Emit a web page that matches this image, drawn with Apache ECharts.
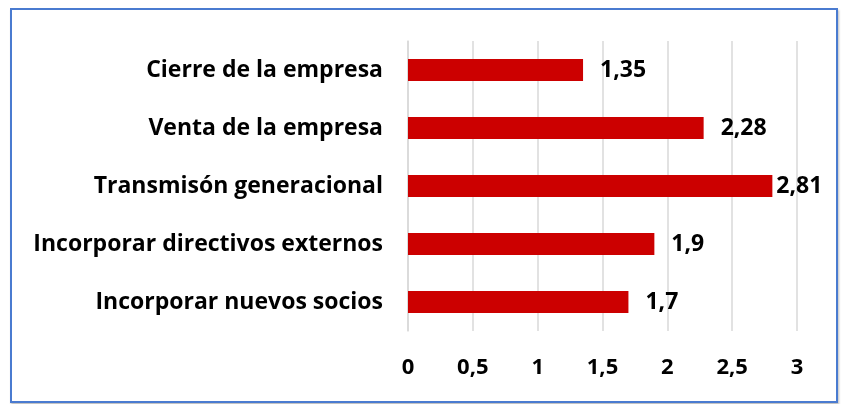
<!DOCTYPE html>
<html>
<head>
<meta charset="utf-8">
<script src="https://cdn.jsdelivr.net/npm/echarts@6/dist/echarts.min.js"></script>
<style>
  html, body { margin: 0; padding: 0; background: #ffffff; }
  #frame {
    position: absolute; left: 10px; top: 8px; width: 824px; height: 391px;
    border: 2px solid #4a7bd0; box-shadow: 1px 2px 2px #bfbfbf; background: #fff;
  }
  #chart { position: absolute; left: 0; top: 0; width: 843px; height: 404px; }
</style>
</head>
<body>
<div id="frame"></div>
<div id="chart"></div>
<script>
// Categories, top to bottom
const categories = [
  'Cierre de la empresa',
  'Venta de la empresa',
  'Transmisón generacional',
  'Incorporar directivos externos',
  'Incorporar nuevos socios'
];
const values = [1.35, 2.28, 2.81, 1.9, 1.7];
const tickValues = [0, 0.5, 1, 1.5, 2, 2.5, 3];

const fmt = v => String(v).replace('.', ',');
const FONT = '"Open Sans", "Liberation Sans", sans-serif';

const chart = echarts.init(document.getElementById('chart'), null, { renderer: 'canvas' });
chart.setOption({
  animation: false,
  grid: { left: 408, right: 46, top: 41, bottom: 73, containLabel: false },
  xAxis: {
    type: 'value',
    min: tickValues[0],
    max: tickValues[tickValues.length - 1],
    interval: 0.5,
    axisLine: { show: false },
    axisTick: { show: false },
    splitLine: { show: true, lineStyle: { color: '#d9d9d9', width: 1.5 } },
    axisLabel: {
      margin: 26, fontFamily: FONT, fontWeight: 'bold', fontSize: 22, color: '#000',
      formatter: v => fmt(v)
    }
  },
  yAxis: {
    type: 'category',
    inverse: true,
    data: categories,
    axisLine: { show: true, lineStyle: { color: '#d9d9d9', width: 1.5 } },
    axisTick: { show: false },
    axisLabel: {
      margin: 25, fontFamily: FONT, fontWeight: 'bold', fontSize: 23, color: '#000'
    }
  },
  series: [{
    type: 'bar',
    data: values.map((v, i) => ({
      value: v,
      label: { distance: i === 2 ? 4 : 17 }
    })),
    barWidth: 22,
    itemStyle: { color: '#cc0000' },
    label: {
      show: true, position: 'right', fontFamily: FONT, fontWeight: 'bold',
      fontSize: 23, color: '#000', formatter: p => fmt(p.value)
    }
  }]
});
</script>
</body>
</html>
